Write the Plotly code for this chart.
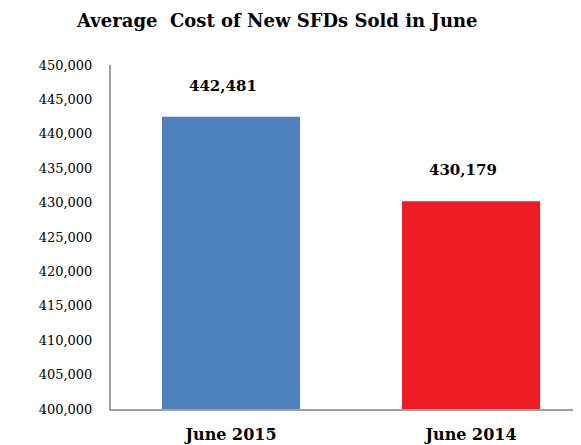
import plotly.graph_objects as go

categories = ["June 2015", "June 2014"]
values = [442481, 430179]
labels = ["442,481", "430,179"]
colors = ["#4F81BD", "#ED1C24"]
tick_vals = list(range(400000, 450001, 5000))
tick_text = [f"{v:,}" for v in tick_vals]

fig = go.Figure()
fig.add_trace(go.Bar(x=categories, y=values, marker=dict(color=colors, line=dict(width=0)),
                     width=0.575, hoverinfo="skip"))
for c, v, t in zip(categories, values, labels):
    fig.add_annotation(x=c, y=v, text=f"<b>{t}</b>", showarrow=False, yshift=31, xshift=-8,
                       font=dict(family="DejaVu Serif", size=15, color="black"))

fig.update_layout(
    width=573, height=437,
    margin=dict(l=103, r=0, t=57, b=36, autoexpand=False),
    paper_bgcolor="white", plot_bgcolor="white",
    showlegend=False,
    title=dict(text="<b>Average  Cost of New SFDs Sold in June</b>", x=0.47, xanchor="center",
               y=0.972, yanchor="middle",
               font=dict(family="DejaVu Serif", size=18, color="black")),
    xaxis=dict(range=[-0.5, 1.458], showline=True, linecolor="#A0A0A0", linewidth=2,
               ticks="", showgrid=False, tickfont=dict(family="DejaVu Serif", size=16, color="black"),
               tickvals=categories, ticktext=[f"<b>{c}</b>" for c in categories],
               ticklabelstandoff=10),
    yaxis=dict(range=[400000, 450000], tickvals=tick_vals, ticktext=tick_text,
               showline=True, linecolor="#A0A0A0", linewidth=2, ticks="", showgrid=False,
               zeroline=False, tickfont=dict(family="DejaVu Serif", size=13, color="black"),
               ticklabelstandoff=14),
)
fig.write_html("out.html")
